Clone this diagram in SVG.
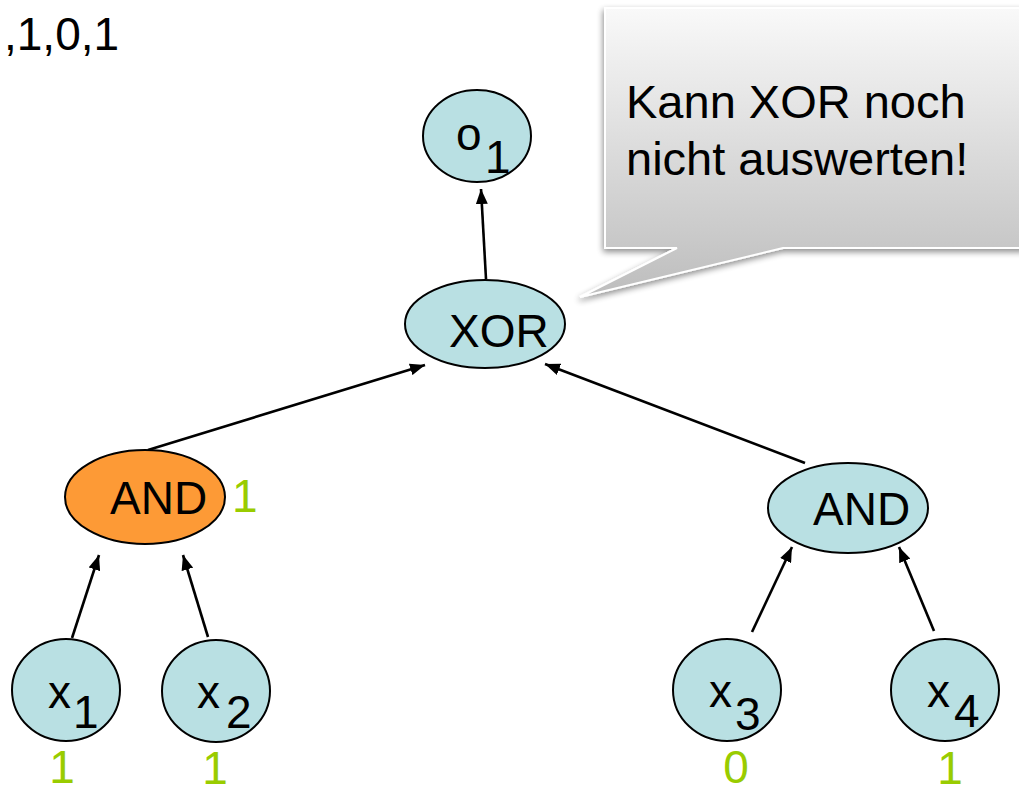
<svg xmlns="http://www.w3.org/2000/svg" width="1019" height="794" viewBox="0 0 1019 794">
  <defs>
    <style>
      .node { fill: #b9e0e3; stroke: #000; stroke-width: 2; }
      .node.active { fill: #fd9a36; }
      .lbl { font-family: "Liberation Sans", Arial, sans-serif; font-size: 46px; fill: #000; }
      .val { font-family: "Liberation Sans", Arial, sans-serif; font-size: 46px; fill: #99cc00; }
      .edge { stroke: #000; stroke-width: 2.6; fill: none; marker-end: url(#arrow); }
      .note { font-family: "Liberation Sans", Arial, sans-serif; font-size: 47px; fill: #000; }
    </style>
    <marker id="arrow" viewBox="0 0 15 12" refX="15" refY="6" markerWidth="15" markerHeight="12" markerUnits="userSpaceOnUse" orient="auto">
      <path d="M0,0 L15,6 L0,12 Z" fill="#000"/>
    </marker>
    <linearGradient id="noteFill" x1="0" y1="0" x2="0" y2="1">
      <stop offset="0" stop-color="#f9f9f9"/>
      <stop offset="1" stop-color="#bdbdbd"/>
    </linearGradient>
    <filter id="noteShadow" x="-10%" y="-10%" width="130%" height="140%">
      <feGaussianBlur in="SourceAlpha" stdDeviation="3"/>
      <feOffset dx="-1" dy="3" result="b"/>
      <feComponentTransfer><feFuncA type="linear" slope="0.45"/></feComponentTransfer>
      <feMerge><feMergeNode/><feMergeNode in="SourceGraphic"/></feMerge>
    </filter>
  </defs>

  <rect width="1019" height="794" fill="#fff"/>

  <!-- input vector tail -->
  <text class="lbl" x="4" y="50">,1,0,1</text>

  <!-- speech bubble -->
  <g id="note">
    <path d="M605,8 L1030,8 L1030,248 L783,248 L580,297 L677,248 L605,248 Z" fill="url(#noteFill)" stroke="#fff" stroke-width="2" filter="url(#noteShadow)"/>
    <text class="note" x="626" y="118">Kann XOR noch</text>
    <text class="note" x="626" y="175">nicht auswerten!</text>
  </g>

  <!-- connectors -->
  <g id="edges">
    <line class="edge" x1="486" y1="279" x2="481" y2="189"/>
    <line class="edge" x1="148" y1="450" x2="425" y2="365"/>
    <line class="edge" x1="805" y1="463" x2="545" y2="364"/>
    <line class="edge" x1="72" y1="638" x2="99" y2="555"/>
    <line class="edge" x1="208" y1="637" x2="183" y2="555"/>
    <line class="edge" x1="752" y1="632" x2="792" y2="547"/>
    <line class="edge" x1="934" y1="631" x2="899" y2="547"/>
  </g>

  <!-- output -->
  <g id="o1">
    <ellipse class="node" cx="477" cy="136" rx="54" ry="46"/>
    <text class="lbl" x="456" y="150">o<tspan x="485" y="173">1</tspan></text>
  </g>

  <g id="xor">
    <ellipse class="node" cx="485" cy="324" rx="80" ry="44"/>
    <text class="lbl" x="449" y="347">XOR</text>
  </g>

  <g id="and-left">
    <ellipse class="node active" cx="145" cy="497" rx="80" ry="47"/>
    <text class="lbl" x="110" y="514">AND</text>
    <text class="val" x="232" y="512">1</text>
  </g>

  <g id="and-right">
    <ellipse class="node" cx="848" cy="508" rx="80" ry="45"/>
    <text class="lbl" x="813" y="525">AND</text>
  </g>

  <!-- inputs with their values -->
  <g id="x1">
    <ellipse class="node" cx="66" cy="690" rx="54" ry="51"/>
    <text class="lbl" x="48" y="708">x<tspan x="73" y="728">1</tspan></text>
    <text class="val" x="62" y="783" text-anchor="middle">1</text>
  </g>

  <g id="x2">
    <ellipse class="node" cx="216" cy="691" rx="54" ry="51"/>
    <text class="lbl" x="197" y="708">x<tspan x="226" y="728">2</tspan></text>
    <text class="val" x="215" y="784" text-anchor="middle">1</text>
  </g>

  <g id="x3">
    <ellipse class="node" cx="727" cy="690" rx="54" ry="51"/>
    <text class="lbl" x="709" y="707">x<tspan x="735" y="730">3</tspan></text>
    <text class="val" x="736" y="783" text-anchor="middle">0</text>
  </g>

  <g id="x4">
    <ellipse class="node" cx="945" cy="690" rx="54" ry="51"/>
    <text class="lbl" x="927" y="707">x<tspan x="954" y="727">4</tspan></text>
    <text class="val" x="950" y="784" text-anchor="middle">1</text>
  </g>
</svg>
